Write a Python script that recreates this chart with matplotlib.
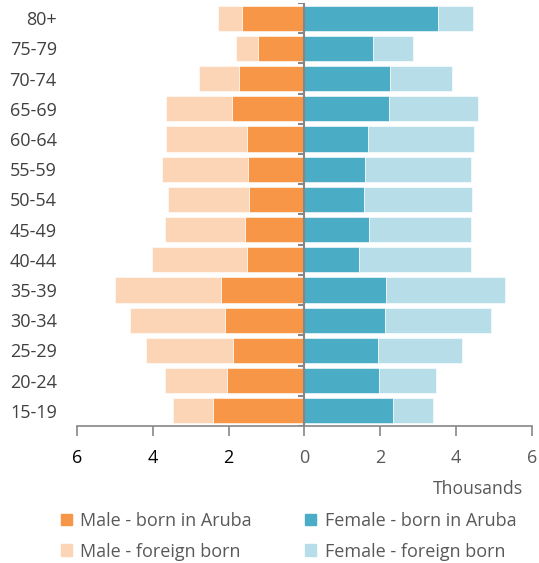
import matplotlib
matplotlib.use("Agg")
import matplotlib.pyplot as plt
from matplotlib.patches import Patch
import numpy as np

plt.rcParams['font.family'] = ['Open Sans', 'DejaVu Sans']

age_groups = ["80+", "75-79", "70-74", "65-69", "60-64", "55-59", "50-54",
              "45-49", "40-44", "35-39", "30-34", "25-29", "20-24", "15-19"]
# thousands
male_aruba = [1.65, 1.22, 1.74, 1.91, 1.52, 1.49, 1.46, 1.56, 1.51, 2.20, 2.10, 1.89, 2.04, 2.42]
male_total = [2.28, 1.80, 2.78, 3.64, 3.65, 3.75, 3.61, 3.69, 4.03, 5.00, 4.59, 4.19, 3.69, 3.47]
female_aruba = [3.53, 1.81, 2.26, 2.23, 1.67, 1.59, 1.57, 1.70, 1.44, 2.14, 2.12, 1.94, 1.97, 2.34]
female_total = [4.45, 2.87, 3.90, 4.57, 4.46, 4.38, 4.42, 4.40, 4.40, 5.30, 4.91, 4.16, 3.47, 3.39]
male_foreign = [t - a for t, a in zip(male_total, male_aruba)]
female_foreign = [t - a for t, a in zip(female_total, female_aruba)]
x_ticks = [-6, -4, -2, 0, 2, 4, 6]

c_mA, c_mF = "#F79646", "#FBD5B5"
c_fA, c_fF = "#4BACC6", "#B7DEE8"

fig = plt.figure(figsize=(5.39, 5.63), dpi=100)
ax = fig.add_axes([77/539, 1 - 426/563, (532-77)/539, (426-3)/563])

y = np.arange(len(age_groups))[::-1]
h = 0.83
ax.barh(y, [-v for v in male_aruba], height=h, color=c_mA, edgecolor="white", linewidth=0.4)
ax.barh(y, [-v for v in male_foreign], left=[-v for v in male_aruba], height=h, color=c_mF, edgecolor="white", linewidth=0.4)
ax.barh(y, female_aruba, height=h, color=c_fA, edgecolor="white", linewidth=0.4)
ax.barh(y, female_foreign, left=female_aruba, height=h, color=c_fF, edgecolor="white", linewidth=0.4)

ax.set_xlim(-6, 6)
ax.set_ylim(-0.5, len(age_groups) - 0.5)

for s in ["top", "right", "left"]:
    ax.spines[s].set_visible(False)
ax.spines["bottom"].set_color("#868686")
ax.spines["bottom"].set_linewidth(1.2)

ax.axvline(0, color="#868686", lw=1.5, zorder=5)
bounds = np.arange(len(age_groups) + 1) - 0.5
ax.hlines(bounds, -0.17, 0, color="#868686", lw=1.5, zorder=5)

ax.set_xticks(x_ticks)
ax.set_xticklabels([str(abs(v)) for v in x_ticks], fontsize=13)
for lab, v in zip(ax.get_xticklabels(), x_ticks):
    lab.set_color("#000000" if v < 0 else "#595959")
ax.tick_params(axis="x", direction="out", length=7, width=1.2, color="#868686", pad=9.5)

ax.set_yticks(y)
ax.set_yticklabels(age_groups, fontsize=13, color="#404040")
ax.tick_params(axis="y", length=0, pad=14.5)

fig.text(523/539, 1 - 489/563, "Thousands", ha="right", va="center", fontsize=12.7, color="#595959")

handles = [Patch(color=c_mA), Patch(color=c_mF), Patch(color=c_fA), Patch(color=c_fF)]
labels = ["Male - born in Aruba", "Male - foreign born", "Female - born in Aruba", "Female - foreign born"]
leg = fig.legend(handles, labels, ncol=2, loc="upper left", bbox_to_anchor=(61/539, 1 - 512/563),
                 frameon=False, fontsize=13, handlelength=0.62, handleheight=0.62,
                 handletextpad=0.45, columnspacing=2.95, labelspacing=0.7, labelcolor="#595959",
                 borderaxespad=0, borderpad=0)

fig.savefig("out.png", dpi=100)
